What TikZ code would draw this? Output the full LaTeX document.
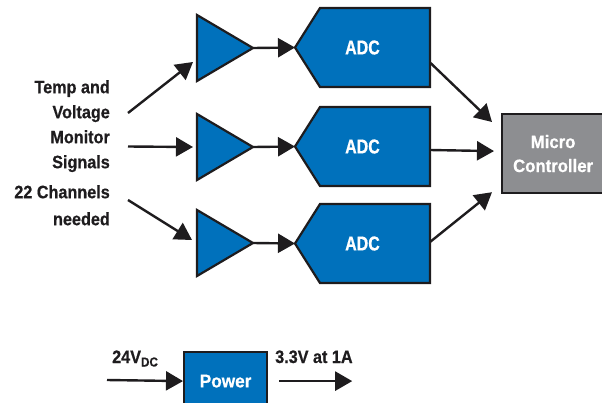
\documentclass[tikz,border=0pt]{standalone}
\usepackage{fontspec}
\setmainfont{Liberation Sans}
\newfontfamily\cond{Liberation Sans}[FakeStretch=0.9,FakeBold=0.6]
\newfontfamily\condm{Liberation Sans}[FakeStretch=0.93,FakeBold=0.6]
\newfontfamily\condadc{Liberation Sans}[FakeStretch=0.8,FakeBold=0.6]
\usetikzlibrary{arrows.meta,shapes.geometric,calc,backgrounds}
\definecolor{myblue}{RGB}{0,113,188}
\definecolor{mygrey}{RGB}{141,142,145}
\definecolor{myblack}{RGB}{30,28,30}
\begin{document}
\begin{tikzpicture}[x=1pt,y=-1pt,
  arr/.style={draw=myblack, line width=2.4pt, -{Triangle[length=17pt,width=19pt]}},
  outline/.style={fill=myblue, draw=myblack, line width=2.2pt, line join=miter},
  amp/.style={isosceles triangle, isosceles triangle stretches, shape border rotate=0,
    minimum width=66pt, minimum height=56pt, inner sep=0, outer sep=0, outline},
  adc/.style={rectangle, minimum width=135pt, minimum height=79pt, inner sep=0, outer sep=0,
    text=white, font=\condadc\bfseries\fontsize{20}{20}\selectfont},
  lbl/.style={text=myblack, font=\cond\bfseries\fontsize{18}{25}\selectfont, inner sep=0}]
\useasboundingbox (0,0) rectangle (602,402);

% amplifiers
\node[amp, anchor=apex] (amp1) at (253,48) {};
\node[amp, anchor=apex] (amp2) at (253,147) {};
\node[amp, anchor=apex] (amp3) at (253,243) {};

% ADCs
\node[adc] (adc1) at (362.5,47.5) {ADC\hspace{9pt}};
\node[adc] (adc2) at (362.5,146.5) {ADC\hspace{9pt}};
\node[adc] (adc3) at (362.5,243.5) {ADC\hspace{9pt}};
\begin{scope}[on background layer]
  \foreach \a in {adc1,adc2,adc3}
    \draw[outline] ($(\a.north west)+(25,0)$) -- (\a.north east) -- (\a.south east)
      -- ($(\a.south west)+(25,0)$) -- (\a.west) -- cycle;
\end{scope}

% micro controller
\node[draw=myblack, fill=mygrey, line width=2.2pt, minimum width=102pt, minimum height=79pt,
  anchor=north west, inner sep=0, text=white, align=center,
  font=\condm\bfseries\fontsize{18}{24}\selectfont] (micro) at (501,113) {Micro\\Controller};

% left label
\node[lbl, anchor=north east, align=right] (sig) at (110,80)
  {Temp and\\Voltage\\Monitor\\Signals\\[5pt]22 Channels\\[2pt]needed};

% inputs
\coordinate (s1) at (128,113);
\coordinate (s2) at (128,146.5);
\coordinate (s3) at (128,200);
\draw[arr] (s1) -- ($(amp1.lower side)+(-4,14)$);
\draw[arr] (s2) -- ($(amp2.lower side)+(-4,0)$);
\draw[arr] (s3) -- ($(amp3.lower side)+(-5,-3)$);

% amp -> adc
\draw[arr] (amp1.apex) -- (adc1.west);
\draw[arr] (amp2.apex) -- (adc2.west);
\draw[arr] (amp3.apex) -- (adc3.west);

% adc -> micro
\draw[arr] ($(adc1.east)+(0,15)$) -- ($(micro.north west)+(-9,9)$);
\draw[arr] ($(adc2.east)+(0,3.5)$) -- ($(micro.west)+(-7,-2.5)$);
\draw[arr] ($(adc3.east)+(0,-1.5)$) -- ($(micro.south west)+(-9,-2)$);

% power
\node[draw=myblack, fill=myblue, line width=2.2pt, minimum width=83pt, minimum height=58pt,
  anchor=north west, inner sep=0, text=white,
  font=\condm\bfseries\fontsize{18.5}{20}\selectfont] (power) at (183,351) {Power};
\coordinate (pin) at (107,380);
\draw[arr] (pin) -- (power.west);
\draw[arr] ($(power.east)+(11,0)$) -- ++(73,0);
\node[lbl, anchor=base west] (vin) at (112,363)
  {24V\raisebox{-3.5pt}{\fontsize{13}{13}\selectfont DC}};
\node[lbl, anchor=base west] (vout) at (275,363) {3.3V at 1A};
\end{tikzpicture}
\end{document}
